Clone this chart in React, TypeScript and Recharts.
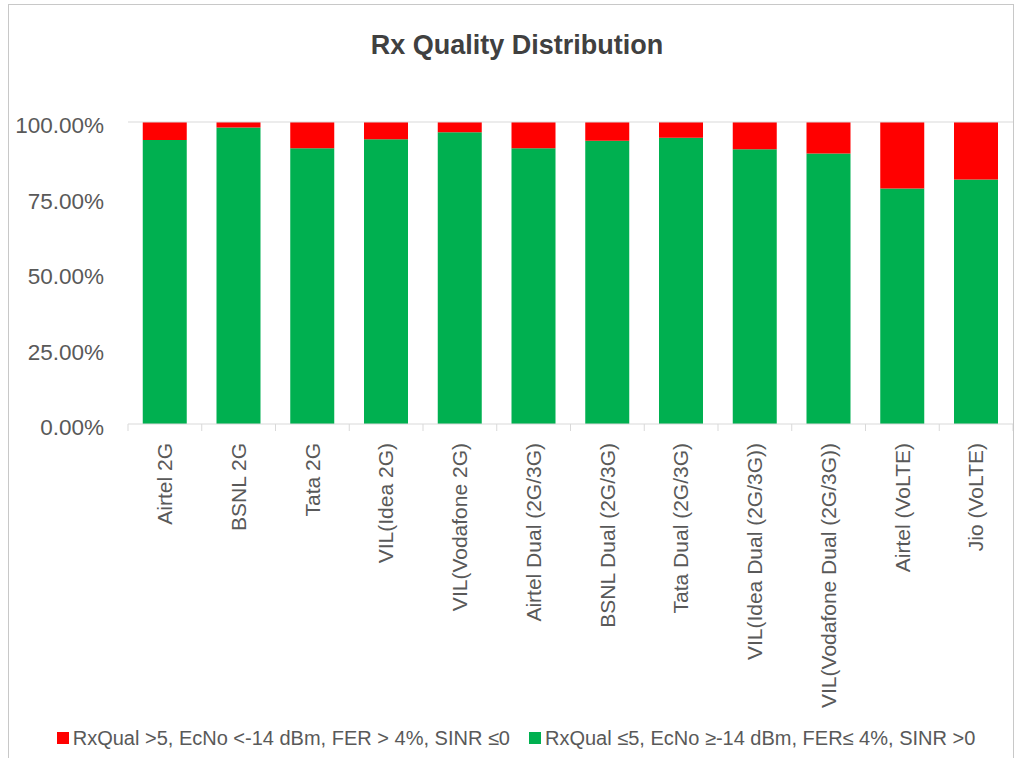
import React from 'react';
import { BarChart, Bar, XAxis, YAxis, ReferenceLine, Legend } from 'recharts';

const categories = [
  'Airtel 2G',
  'BSNL 2G',
  'Tata 2G',
  'VIL(Idea 2G)',
  'VIL(Vodafone 2G)',
  'Airtel Dual (2G/3G)',
  'BSNL Dual (2G/3G)',
  'Tata Dual (2G/3G)',
  'VIL(Idea Dual (2G/3G))',
  'VIL(Vodafone Dual (2G/3G))',
  'Airtel (VoLTE)',
  'Jio (VoLTE)',
];

const goodValues = [94.0, 98.2, 91.3, 94.3, 96.6, 91.3, 93.8, 94.8, 91.0, 89.6, 78.0, 81.0];
const badValues = [6.0, 1.8, 8.7, 5.7, 3.4, 8.7, 6.2, 5.2, 9.0, 10.4, 22.0, 19.0];

const yTicks = [0, 25, 50, 75, 100];

const badLabel = 'RxQual >5, EcNo <-14 dBm, FER > 4%, SINR \u22640';
const goodLabel = 'RxQual \u22645, EcNo \u2265-14 dBm, FER\u2264 4%, SINR >0';

const data = categories.map((name, i) => ({ name, good: goodValues[i], bad: badValues[i] }));

const FONT = '"Liberation Sans", Arial, sans-serif';
const TEXT = '#595959';
const CHART_W = 1004;
const CHART_H = 753;
const MARGIN = { top: 117, right: 0, left: 0, bottom: 8 };
const Y_W = 119;
const BAND = (CHART_W - Y_W - MARGIN.right - MARGIN.left) / categories.length;

const XTick = (props: any) => {
  const { x, y, payload, index } = props;
  const left = x - BAND / 2;
  const right = x + BAND / 2;
  return (
    <g>
      <line x1={left} y1={y} x2={left} y2={y + 7} stroke="#d9d9d9" strokeWidth={1} />
      {index === categories.length - 1 && (
        <line x1={right} y1={y} x2={right} y2={y + 7} stroke="#d9d9d9" strokeWidth={1} />
      )}
      <text
        x={x}
        y={y + 19}
        dy="0.35em"
        transform={`rotate(-90, ${x}, ${y + 19})`}
        textAnchor="end"
        fill={TEXT}
        fontSize={21}
        fontFamily={FONT}
      >
        {payload.value}
      </text>
    </g>
  );
};

const YTick = (props: any) => {
  const { x, y, payload } = props;
  return (
    <text x={x} y={y} dy="0.5em" textAnchor="end" fill={TEXT} fontSize={22.5} fontFamily={FONT}>
      {`${Number(payload.value).toFixed(2)}%`}
    </text>
  );
};

const LegendContent = () => {
  const items = [
    { label: badLabel, color: '#FF0000' },
    { label: goodLabel, color: '#00B050' },
  ];
  return (
    <div
      style={{
        display: 'flex',
        justifyContent: 'center',
        alignItems: 'center',
        height: 24,
        fontFamily: FONT,
        fontSize: 20,
        color: TEXT,
        paddingLeft: 10,
      }}
    >
      {items.map((it, i) => (
        <div key={i} style={{ display: 'flex', alignItems: 'center', marginLeft: i === 0 ? 0 : 19 }}>
          <span style={{ display: 'inline-block', width: 12, height: 12, background: it.color, marginRight: 4 }} />
          <span style={{ whiteSpace: 'nowrap' }}>{it.label}</span>
        </div>
      ))}
    </div>
  );
};

export default function App() {
  return (
    <div
      style={{
        position: 'absolute',
        top: 4,
        left: 8,
        width: CHART_W + 2,
        height: CHART_H + 1,
        boxSizing: 'border-box',
        borderTop: '1px solid #c8c8c8',
        borderLeft: '1px solid #c8c8c8',
        borderRight: '1px solid #c8c8c8',
        background: '#fff',
        overflow: 'hidden',
      }}
    >
      <div
        style={{
          position: 'absolute',
          top: 25,
          left: 6,
          width: CHART_W,
          textAlign: 'center',
          fontFamily: FONT,
          fontWeight: 'bold',
          fontSize: 27,
          lineHeight: '30px',
          color: '#404040',
        }}
      >
        Rx Quality Distribution
      </div>
      <BarChart width={CHART_W} height={CHART_H} data={data} margin={MARGIN} barCategoryGap="20%">
        <ReferenceLine y={100} stroke="#d9d9d9" strokeWidth={1} />
        <XAxis
          dataKey="name"
          interval={0}
          height={302}
          axisLine={{ stroke: '#d9d9d9' }}
          tickLine={false}
          tickSize={0}
          tickMargin={0}
          tick={<XTick />}
        />
        <YAxis
          width={Y_W}
          domain={[0, 100]}
          ticks={yTicks}
          axisLine={false}
          tickLine={false}
          tickSize={8}
          tickMargin={16}
          tick={<YTick />}
          interval={0}
        />
        <Legend verticalAlign="bottom" height={24} content={<LegendContent />} />
        <Bar dataKey="good" stackId="a" fill="#00B050" isAnimationActive={false} />
        <Bar dataKey="bad" stackId="a" fill="#FF0000" isAnimationActive={false} />
      </BarChart>
    </div>
  );
}
